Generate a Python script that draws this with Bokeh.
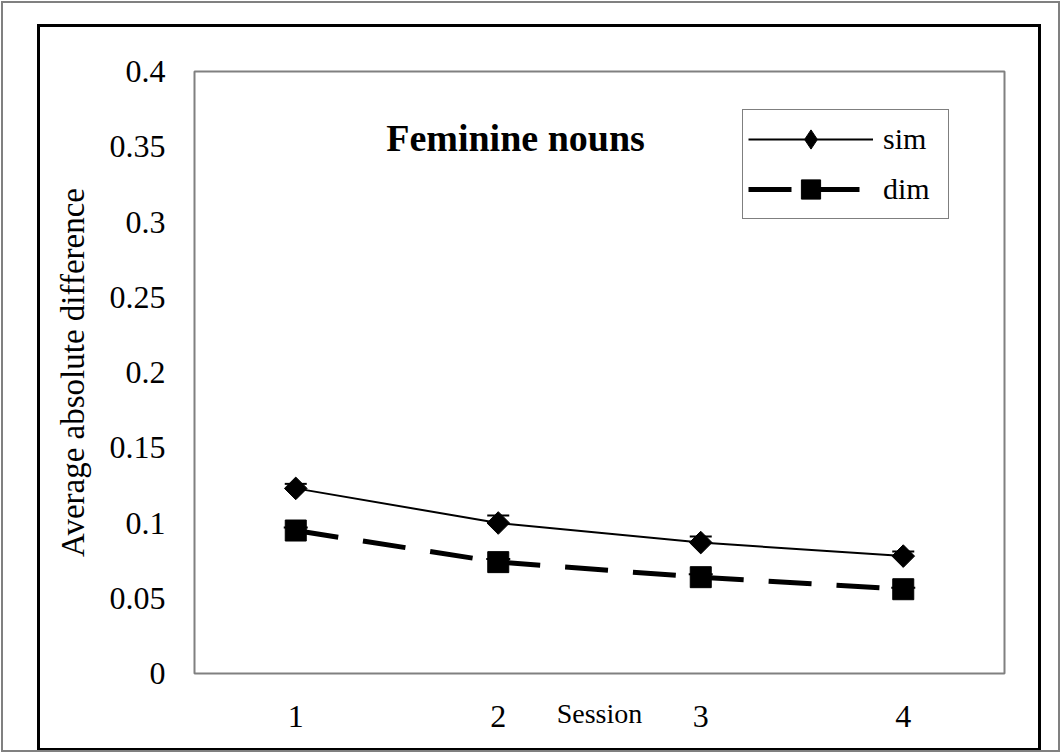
import numpy as np
from bokeh.plotting import figure
from bokeh.models import (FactorRange, Range1d, FixedTicker, CustomJSTickFormatter,
                          Legend, LegendItem, Label, ColumnDataSource)
from bokeh.embed import file_html
from bokeh.resources import INLINE

sessions = ["1", "2", "3", "4"]
sim = [0.123, 0.100, 0.087, 0.078]
sim_err = [0.003, 0.005, 0.004, 0.003]
dim = [0.095, 0.074, 0.064, 0.056]
dim_err = [0.002, 0.002, 0.002, 0.001]
y_ticks = [0, 0.05, 0.1, 0.15, 0.2, 0.25, 0.3, 0.35, 0.4]
title_text = "Feminine nouns"
x_label = "Session"
y_label = "Average absolute difference"

FONT = "Liberation Serif"
W, H = 1061, 753

src = ColumnDataSource(dict(
    x=sessions,
    sim=sim, sim_up=[v + e for v, e in zip(sim, sim_err)],
    dim=dim, dim_up=[v + e for v, e in zip(dim, dim_err)],
))

p = figure(width=W, height=H,
           x_range=FactorRange(*sessions), y_range=Range1d(0, 0.4),
           output_backend="svg", toolbar_location=None,
           min_border_left=194, min_border_right=57,
           min_border_top=71, min_border_bottom=80)
# page frames: thin grey outer line and black inner box (CSS on the host element)
p.styles = {
    "background-color": "white",
    "outline": "2px solid #808080",
    "outline-offset": "-3px",
    "box-shadow": ("inset 24px 11px 0 13px white, inset -7px 11px 0 13px white, "
                   "inset 24px 11px 0 16px black, inset -7px 11px 0 16px black"),
}
p.background_fill_color = "white"
p.border_fill_color = None
p.grid.visible = False
p.outline_line_color = "#808080"
p.outline_line_width = 2

# error bars (upper only)
p.segment(x0="x", y0="sim", x1="x", y1="sim_up", source=src, line_color="black", line_width=2)
p.scatter(x="x", y="sim_up", source=src, marker="dash", size=22, line_color="black", line_width=2)
p.segment(x0="x", y0="dim", x1="x", y1="dim_up", source=src, line_color="black", line_width=2)
p.scatter(x="x", y="dim_up", source=src, marker="dash", size=24, line_color="black", line_width=2)

sim_line = p.line("x", "sim", source=src, line_color="black", line_width=2)
sim_key = p.scatter("x", "sim", source=src, marker="diamond", size=20,
                    fill_color="black", line_color="black")
sim_pts = p.scatter("x", "sim", source=src, marker="square", angle=np.pi / 4, size=16,
                    fill_color="black", line_color="black")
dim_line = p.line("x", "dim", source=src, line_color="black", line_width=5, line_dash="43 25")
dim_pts = p.scatter("x", "dim", source=src, marker="square", size=21,
                    fill_color="black", line_color="black")

legend = Legend(items=[LegendItem(label="sim", renderers=[sim_line, sim_key]),
                       LegendItem(label="dim", renderers=[dim_line, dim_pts])],
                location=(548, 454), glyph_width=125, glyph_height=48,
                label_standoff=10, padding=5, spacing=2, margin=0, label_width=60,
                border_line_color="black", border_line_width=1,
                label_text_font=FONT, label_text_font_size="30px", label_text_color="black",
                background_fill_color="white", background_fill_alpha=1)
p.add_layout(legend)

p.add_layout(Label(x=321, y=536, x_units="screen", y_units="screen", text=title_text,
                   text_font=FONT, text_font_size="38px", text_font_style="bold",
                   text_align="center", text_baseline="alphabetic", text_color="black"))

# axes
p.yaxis.ticker = FixedTicker(ticks=y_ticks)
p.yaxis.formatter = CustomJSTickFormatter(code="return String(Math.round(tick*100)/100);")
for ax in (p.xaxis[0], p.yaxis[0]):
    ax.axis_line_color = None
    ax.major_tick_line_color = None
    ax.minor_tick_line_color = None
    ax.major_tick_out = 0
    ax.major_tick_in = 0
    ax.minor_tick_out = 0
    ax.major_label_text_font = FONT
    ax.major_label_text_font_size = "32px"
    ax.major_label_text_color = "black"
    ax.axis_label_text_font = FONT
    ax.axis_label_text_font_style = "normal"
    ax.axis_label_text_color = "black"
p.yaxis.major_label_standoff = 29
p.yaxis.axis_label = y_label
p.yaxis.axis_label_text_font_size = "33px"
p.yaxis.axis_label_standoff = 16

p.xaxis.major_label_standoff = 32
p.xaxis.axis_label = x_label
p.xaxis.axis_label_text_font_size = "28px"
p.xaxis.axis_label_standoff = -32

open("out.html", "w").write(file_html(p, INLINE))
